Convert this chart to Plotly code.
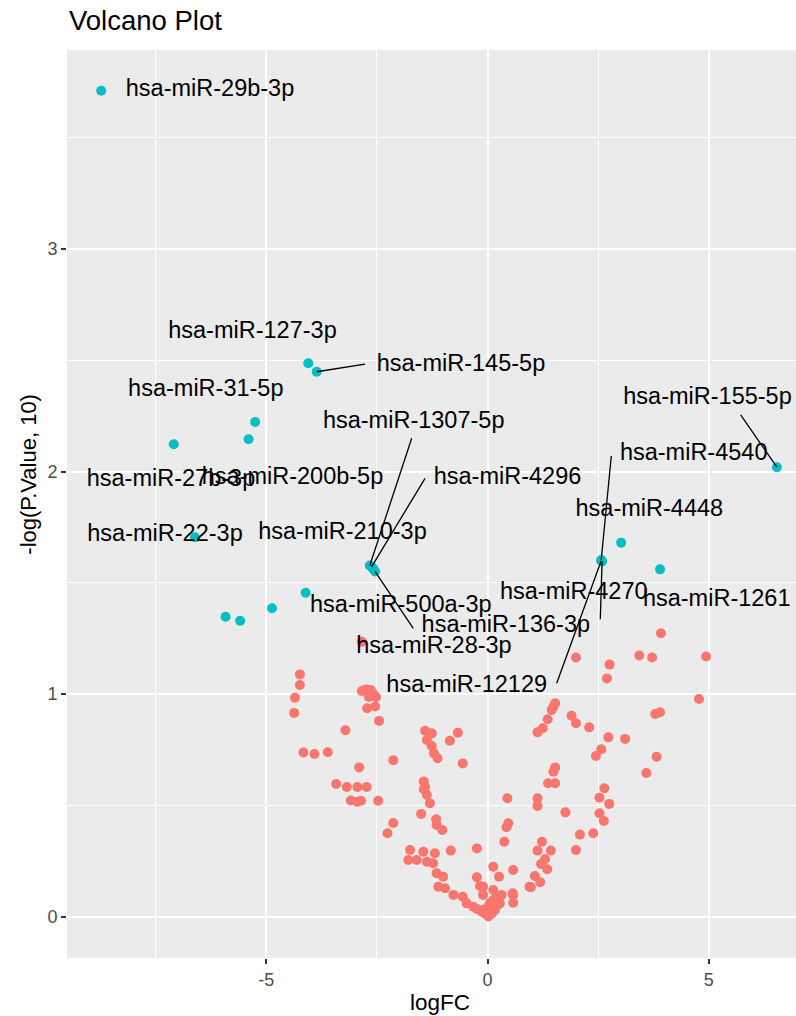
import plotly.graph_objects as go

# ---------------- data ----------------
# non-significant genes (P >= 0.05)
ns_logfc = [
    -4.24, -4.24, -4.35, -4.37,
    -2.84, -2.75, -2.64, -2.58, -2.68, -2.52, -2.72, -2.54, -2.45,
    -3.21, -4.16, -3.91, -3.61, -2.90, -2.13,
    -3.42, -3.18, -2.94, -2.73, -3.09, -2.94, -2.86, -2.47,
    -2.13, -2.26,
    -2.84,
    -1.41, -1.26, -1.37, -1.26, -1.21, -1.13, -0.85, -0.67, -0.56,
    -1.44, -1.41, -1.44, -1.37, -1.30, -1.50, -1.16, -1.15, -1.02,
    -1.75, -1.79, -1.60, -1.45, -1.37, -1.19, -1.23, -0.83, -0.24,
    -1.15, -1.00, -1.11, -0.96, -0.77, -0.56, -0.47, -0.32, -0.17, -0.06, 0.02,
    -0.24, -0.17, -0.10, 0.13, 0.26, 0.13, 0.21, 0.28, 0.17, 0.10, 0.32,
    0.58, 0.58, 0.58, 0.45, 0.47, 0.43, 0.38, 0.95,
    -0.10, 0.06, -0.02, 0.13, -0.12, 0.03, -0.24, 0.22,
    3.92, 2.00, 2.76, 2.70, 3.43, 3.72, 4.94, 4.78,
    1.53, 1.49, 1.45, 1.36, 1.25, 1.13, 1.90, 2.00, 2.30,
    3.79, 3.90, 2.73, 3.11, 2.57, 2.45, 3.82,
    1.53, 1.49, 3.59, 1.37, 1.53, 1.13, 1.13, 1.76,
    2.64, 2.53, 2.75, 2.53, 2.63, 2.09, 2.39, 2.00,
    1.23, 1.13, 1.43, 1.30, 1.21, 1.35, 1.07, 1.19, 0.98, 0.57,
]
ns_logp = [
    1.089, 1.041, 0.984, 0.916,
    1.014, 1.021, 1.019, 1.001, 0.987, 0.987, 0.937, 0.945, 0.880,
    0.838, 0.738, 0.731, 0.739, 0.671, 0.703,
    0.596, 0.583, 0.583, 0.583, 0.522, 0.517, 0.521, 0.521,
    0.421, 0.375,
    1.236,
    0.836, 0.824, 0.794, 0.767, 0.734, 0.712, 0.791, 0.827, 0.689,
    0.608, 0.583, 0.573, 0.547, 0.510, 0.462, 0.438, 0.412, 0.390,
    0.300, 0.255, 0.255, 0.292, 0.247, 0.285, 0.240, 0.297, 0.307,
    0.195, 0.180, 0.135, 0.128, 0.098, 0.090, 0.060, 0.045, 0.030, 0.015, 0.001,
    0.177, 0.138, 0.098, 0.225, 0.180, 0.120, 0.090, 0.060, 0.030, 0.015, 0.098,
    0.098, 0.063, 0.210, 0.532, 0.420, 0.402, 0.337, 0.135,
    0.135, 0.062, 0.039, 0.075, 0.022, 0.008, 0.035, 0.053,
    1.274, 1.165, 1.133, 1.071, 1.174, 1.165, 1.169, 0.978,
    0.959, 0.944, 0.929, 0.887, 0.847, 0.829, 0.903, 0.869, 0.851,
    0.911, 0.919, 0.806, 0.799, 0.752, 0.722, 0.719,
    0.671, 0.652, 0.646, 0.600, 0.600, 0.532, 0.498, 0.469,
    0.577, 0.535, 0.507, 0.465, 0.430, 0.369, 0.375, 0.300,
    0.337, 0.297, 0.297, 0.258, 0.237, 0.213, 0.183, 0.155, 0.132, 0.105,
]

# significant genes (P < 0.05)
sig_logfc = [-8.73, -4.05, -3.86, -5.25, -5.40, -7.09, -6.61,
             -2.66, -2.62, -2.58, -2.54,
             -4.11, -4.87, -5.92, -5.59,
             6.54, 3.02, 2.57, 2.57, 2.59, 3.90]
sig_logp = [3.712, 2.487, 2.449, 2.223, 2.146, 2.123, 1.705,
            1.578, 1.572, 1.563, 1.551,
            1.456, 1.386, 1.348, 1.330,
            2.020, 1.681, 1.603, 1.600, 1.596, 1.561]

# labelled genes
label_genes = ["hsa-miR-29b-3p", "hsa-miR-127-3p", "hsa-miR-145-5p", "hsa-miR-31-5p",
               "hsa-miR-27b-3p", "hsa-miR-200b-5p", "hsa-miR-22-3p", "hsa-miR-1307-5p",
               "hsa-miR-4296", "hsa-miR-210-3p", "hsa-miR-500a-3p", "hsa-miR-136-3p",
               "hsa-miR-28-3p", "hsa-miR-155-5p", "hsa-miR-4540", "hsa-miR-4448",
               "hsa-miR-4270", "hsa-miR-1261", "hsa-miR-12129"]
label_logfc = [-8.73, -4.05, -3.86, -5.25, -7.09, -5.40, -6.61, -2.66,
               -2.62, -2.58, -4.11, -2.54, -2.84, 6.54, 2.57, 3.02,
               2.59, 3.90, 2.57]
label_logp = [3.712, 2.487, 2.449, 2.223, 2.123, 2.146, 1.705, 1.578,
              1.572, 1.563, 1.456, 1.551, 1.236, 2.020, 1.603, 1.681,
              1.596, 1.561, 1.600]

# repelled label placement (text centre) and segment start, in axis units
label_x = [-6.271, -5.311, -0.599, -6.366, -7.153, -4.407, -7.288, -1.668,
           0.452, -3.277, -1.959, 0.414, -1.209, 4.972, 4.660, 3.657,
           1.950, 5.180, -0.470]
label_y = [3.716, 2.629, 2.480, 2.367, 1.963, 1.969, 1.713, 2.221,
           1.973, 1.723, 1.395, 1.307, 1.213, 2.330, 2.080, 1.828,
           1.453, 1.423, 1.037]
seg_x = [None, None, -2.768, None, None, None, None, -1.713,
         -1.412, None, None, -1.677, None, 5.722, 2.798, None,
         2.549, None, 1.564]
seg_y = [None, None, 2.483, None, None, None, None, 2.150,
         1.970, None, None, 1.296, None, 2.255, 2.071, None,
         1.337, None, 1.049]

x_ticks = [-5, 0, 5]
y_ticks = [0, 1, 2, 3]

# ---------------- figure ----------------
FONT = "Liberation Sans, Arial, Helvetica, sans-serif"
RED = "#F8766D"
CYAN = "#00BFC4"

fig = go.Figure()

fig.add_trace(go.Scatter(x=ns_logfc, y=ns_logp, mode="markers",
                         marker=dict(color=RED, size=10, line=dict(width=0)),
                         showlegend=False, hoverinfo="x+y"))
fig.add_trace(go.Scatter(x=sig_logfc, y=sig_logp, mode="markers",
                         marker=dict(color=CYAN, size=10, line=dict(width=0)),
                         showlegend=False, hoverinfo="x+y"))

# segments
sx, sy = [], []
for i in range(len(label_genes)):
    if seg_x[i] is not None:
        sx += [seg_x[i], label_logfc[i], None]
        sy += [seg_y[i], label_logp[i], None]
fig.add_trace(go.Scatter(x=sx, y=sy, mode="lines",
                         line=dict(color="black", width=1.3),
                         showlegend=False, hoverinfo="skip"))

# labels
fig.add_trace(go.Scatter(x=label_x, y=label_y, mode="text", text=label_genes,
                         textposition="middle center",
                         textfont=dict(family=FONT, size=23.5, color="black"),
                         showlegend=False, hoverinfo="skip"))

fig.update_layout(
    width=796, height=1016,
    margin=dict(l=67, r=0, t=50, b=58),
    paper_bgcolor="white",
    plot_bgcolor="#EBEBEB",
    font=dict(family=FONT),
    showlegend=False,
    annotations=[
        dict(text="Volcano Plot", xref="paper", yref="paper", x=0.0, y=1.033,
             xanchor="left", yanchor="middle", showarrow=False,
             font=dict(family=FONT, size=27.5, color="black")),
        dict(text="logFC", xref="paper", yref="paper", x=0.5117, y=-0.0485,
             xanchor="center", yanchor="middle", showarrow=False,
             font=dict(family=FONT, size=22.5, color="black")),
        dict(text="-log(P.Value, 10)", xref="paper", yref="paper", x=-0.054, y=0.533,
             xanchor="center", yanchor="middle", showarrow=False, textangle=-90,
             font=dict(family=FONT, size=22, color="black")),
    ],
)

fig.update_xaxes(
    range=[-9.503, 6.972], tickmode="array", tickvals=x_ticks,
    ticktext=[str(v) if v >= 0 else "-" + str(-v) for v in x_ticks],
    showgrid=True, gridcolor="white", gridwidth=2, zeroline=False, showline=False,
    ticks="outside", ticklen=5, tickwidth=1.5, tickcolor="#333333",
    tickfont=dict(family=FONT, size=18, color="#4D4D4D"),
    minor=dict(tickmode="array", tickvals=[-7.5, -2.5, 2.5], showgrid=True,
               gridcolor="white", gridwidth=1, ticks=""),
)
fig.update_yaxes(
    range=[-0.1856, 3.895], tickmode="array", tickvals=y_ticks,
    ticktext=[str(v) for v in y_ticks],
    showgrid=True, gridcolor="white", gridwidth=2, zeroline=False, showline=False,
    ticks="outside", ticklen=5, tickwidth=1.5, tickcolor="#333333",
    tickfont=dict(family=FONT, size=18, color="#4D4D4D"),
    minor=dict(tickmode="array", tickvals=[0.5, 1.5, 2.5, 3.5], showgrid=True,
               gridcolor="white", gridwidth=1, ticks=""),
)

fig.write_html("out.html")
